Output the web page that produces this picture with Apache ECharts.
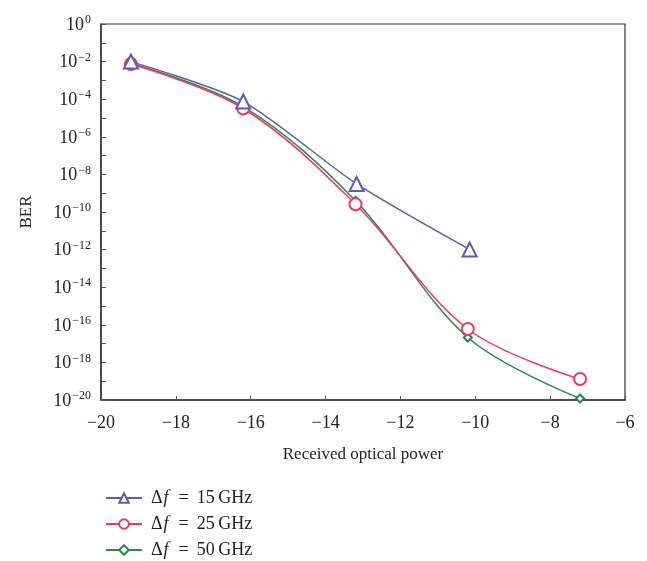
<!DOCTYPE html>
<html><head><meta charset="utf-8">
<script src="https://cdn.jsdelivr.net/npm/echarts@6/dist/echarts.min.js"></script>
<style>html,body{margin:0;padding:0;background:#fff}#c{width:647px;height:561px}</style>
</head><body><div id="c"></div>
<script>
const xTicks = [-20, -18, -16, -14, -12, -10, -8, -6];
const power15 = [-19.2, -16.2, -13.17, -10.15];
const ber15 = [1.0e-2, 7.5e-5, 3.1e-9, 1.0e-12];
const power25 = [-19.2, -16.2, -13.2, -10.2, -7.2];
const ber25 = [7.5e-3, 3.2e-5, 2.6e-10, 6.0e-17, 1.3e-19];
const power50 = [-19.2, -16.2, -13.2, -10.2, -7.2];
const ber50 = [8.0e-3, 4.0e-5, 4.0e-10, 2.1e-17, 1.2e-20];
const seriesNames = ['15', '25', '50'];

const FONT = '"Liberation Serif", "DejaVu Serif", serif';
const colors = ['#5a5fa8', '#ec3a5c', '#2a8752'];
const symbols = ['emptyTriangle', 'emptyCircle', 'emptyDiamond'];
const symSizes = [14, 12, 8];
const xs = [power15, power25, power50];
const ys = [ber15, ber25, ber50];

const series = seriesNames.map((n, i) => ({
  name: n,
  type: 'line',
  smooth: i === 0 ? 0.25 : 0.35,
  data: xs[i].map((x, j) => [x, ys[i][j]]),
  symbol: symbols[i],
  symbolSize: symSizes[i],
  lineStyle: {color: colors[i], width: 1.5},
  itemStyle: {color: colors[i], borderWidth: 1.5},
  z: 3 - i
}));

const chart = echarts.init(document.getElementById('c'));
chart.setOption({
  animation: false,
  backgroundColor: '#fff',
  grid: {left: 101, top: 24, right: 22, bottom: 161, show: true, borderColor: '#333', borderWidth: 1.2},
  xAxis: {
    type: 'value', min: -20, max: -6, interval: 2,
    axisLine: {lineStyle: {color: '#333', width: 1.5}},
    axisTick: {inside: true, length: 4, lineStyle: {color: '#555'}},
    splitLine: {show: false},
    axisLabel: {fontFamily: FONT, fontSize: 18, color: '#222', margin: 14,
      formatter: v => (v < 0 ? '\u2212' + Math.abs(v) : '' + v)},
    name: 'Received optical power', nameLocation: 'middle', nameGap: 46,
    nameTextStyle: {fontFamily: FONT, fontSize: 17, color: '#222'}
  },
  yAxis: {
    type: 'log', logBase: 10, min: 1e-20, max: 1, interval: 1,
    axisLine: {lineStyle: {color: '#333', width: 1.5}},
    axisTick: {inside: true, length: 5, lineStyle: {color: '#555'}},
    splitLine: {show: false},
    minorTick: {show: false},
    axisLabel: {
      margin: 10,
      formatter: v => {
        const e = Math.round(Math.log10(v));
        if (e % 2 !== 0) return '';
        return '{b|10}{s|' + (e < 0 ? '\u2212' + Math.abs(e) : e) + '}';
      },
      rich: {
        b: {fontFamily: FONT, fontSize: 18, color: '#222', verticalAlign: 'bottom', lineHeight: 20},
        s: {fontFamily: FONT, fontSize: 12, color: '#222', verticalAlign: 'top', lineHeight: 20, padding: [0, 0, 10, 1]}
      }
    },
    name: 'BER', nameLocation: 'middle', nameGap: 66,
    nameTextStyle: {fontFamily: FONT, fontSize: 17, color: '#222'}
  },
  legend: {
    orient: 'vertical', left: 100, top: 484, height: 90, itemGap: 8,
    itemWidth: 36, itemHeight: 12,
    data: seriesNames,
    formatter: n => '{a|\u0394}{i|f}{e|=}{a|' + n + '\u2009GHz}',
    textStyle: {
      padding: [0, 0, 0, 4],
      rich: {
        a: {fontFamily: FONT, fontSize: 18, color: '#222', lineHeight: 20},
        i: {fontFamily: FONT, fontSize: 18, color: '#222', fontStyle: 'italic', lineHeight: 20, padding: [0, 2, 0, 1]},
        e: {fontFamily: FONT, fontSize: 18, color: '#222', lineHeight: 20, padding: [0, 8, 0, 8]}
      }
    }
  },
  series: series
});
</script></body></html>
